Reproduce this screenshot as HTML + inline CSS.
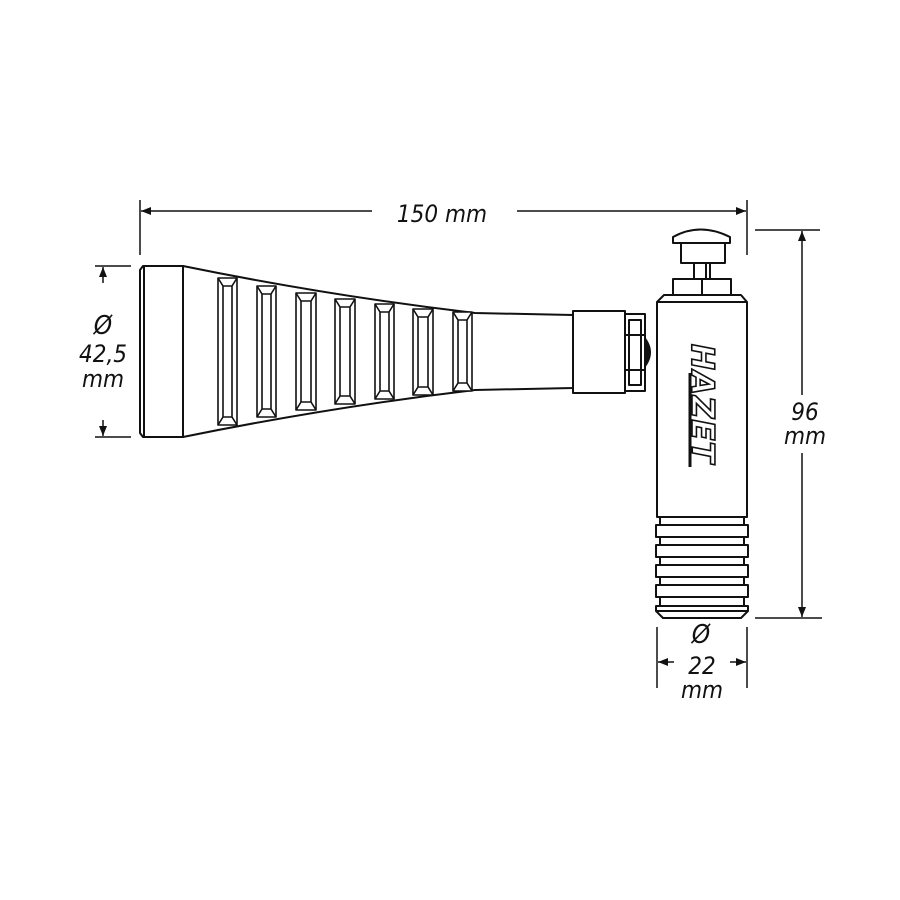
<!DOCTYPE html>
<html><head><meta charset="utf-8"><style>
html,body{margin:0;padding:0;background:#fff;width:900px;height:900px;overflow:hidden}
svg text{font-family:"Liberation Sans Narrow","DejaVu Sans Condensed","Liberation Sans",sans-serif;font-style:italic;fill:#111}
</style></head><body>
<svg width="900" height="900" viewBox="0 0 900 900" xmlns="http://www.w3.org/2000/svg">
<defs>
<marker id="a" viewBox="0 0 10 10" refX="10" refY="5" markerWidth="13" markerHeight="10" orient="auto-start-reverse" markerUnits="userSpaceOnUse"><path d="M0,1 L10,5 L0,9 Z" fill="#111"/></marker>
</defs>
<g stroke="#111" stroke-width="1.5" fill="none">
<line x1="140" y1="200" x2="140" y2="255"/>
<line x1="747" y1="200" x2="747" y2="255"/>
<line x1="141" y1="211" x2="372" y2="211" marker-start="url(#a)"/>
<line x1="517" y1="211" x2="746" y2="211" marker-end="url(#a)"/>
<line x1="95" y1="266" x2="131" y2="266"/>
<line x1="95" y1="437" x2="131" y2="437"/>
<line x1="103" y1="267" x2="103" y2="283" marker-start="url(#a)"/>
<line x1="103" y1="420" x2="103" y2="436" marker-end="url(#a)"/>
<line x1="755" y1="230" x2="820" y2="230"/>
<line x1="755" y1="618" x2="822" y2="618"/>
<line x1="802" y1="231" x2="802" y2="395" marker-start="url(#a)"/>
<line x1="802" y1="453" x2="802" y2="617" marker-end="url(#a)"/>
<line x1="657" y1="627" x2="657" y2="688"/>
<line x1="747" y1="627" x2="747" y2="688"/>
<line x1="658" y1="662" x2="674" y2="662" marker-start="url(#a)"/>
<line x1="730" y1="662" x2="746" y2="662" marker-end="url(#a)"/>
</g>
<g stroke="#111" stroke-width="2" fill="#fff" stroke-linejoin="round">
<path d="M183,266 Q330,296 475,313 L573,315 L573,388 L475,390 Q330,407 183,437 Z"/>
<path d="M143,266 L183,266 L183,437 L143,437 L140,433 L140,270 Z"/>
<line x1="144" y1="267" x2="144" y2="436"/>
<g stroke-width="1.6">
<rect x="218" y="278" width="19" height="147"/><path d="M223,286 L232,286 L232,417 L223,417 Z M218,278 L223,286 M237,278 L232,286 M218,425 L223,417 M237,425 L232,417"/>
<rect x="257" y="286" width="19" height="131"/><path d="M262,294 L271,294 L271,409 L262,409 Z M257,286 L262,294 M276,286 L271,294 M257,417 L262,409 M276,417 L271,409"/>
<rect x="296" y="293" width="20" height="117"/><path d="M301,301 L311,301 L311,402 L301,402 Z M296,293 L301,301 M316,293 L311,301 M296,410 L301,402 M316,410 L311,402"/>
<rect x="335" y="299" width="20" height="105"/><path d="M340,307 L350,307 L350,396 L340,396 Z M335,299 L340,307 M355,299 L350,307 M335,404 L340,396 M355,404 L350,396"/>
<rect x="375" y="304" width="19" height="95"/><path d="M380,312 L389,312 L389,391 L380,391 Z M375,304 L380,312 M394,304 L389,312 M375,399 L380,391 M394,399 L389,391"/>
<rect x="413" y="309" width="20" height="86"/><path d="M418,317 L428,317 L428,387 L418,387 Z M413,309 L418,317 M433,309 L428,317 M413,395 L418,387 M433,395 L428,387"/>
<rect x="453" y="312" width="19" height="79"/><path d="M458,320 L467,320 L467,383 L458,383 Z M453,312 L458,320 M472,312 L467,320 M453,391 L458,383 M472,391 L467,383"/>
</g>
<rect x="573" y="311" width="52" height="82"/>
<path d="M640,333 Q660,352 640,372" fill="#111"/>
<rect x="625" y="314" width="20" height="77"/>
<path d="M629,320 L641,320 L641,385 L629,385 Z M625,335 L645,335 M625,370 L645,370"/>
<rect x="681" y="243" width="44" height="20"/>
<path d="M673,243 L673,237 Q700,222 730,237 L730,243 Z"/>
<rect x="694" y="263" width="16" height="16"/>
<line x1="706" y1="263" x2="706" y2="279"/>
<rect x="673" y="279" width="58" height="16"/>
<line x1="702" y1="279" x2="702" y2="295"/>
<path d="M657,302 L664,295 L741,295 L747,302 L747,517 L657,517 Z"/>
<line x1="658" y1="302" x2="746" y2="302"/>
<rect x="660" y="517" width="84" height="8"/>
<rect x="656" y="525" width="92" height="12"/>
<rect x="660" y="537" width="84" height="8"/>
<rect x="656" y="545" width="92" height="12"/>
<rect x="660" y="557" width="84" height="8"/>
<rect x="656" y="565" width="92" height="12"/>
<rect x="660" y="577" width="84" height="8"/>
<rect x="656" y="585" width="92" height="12"/>
<rect x="660" y="597" width="84" height="9"/>
<path d="M656,606 L748,606 L748,611 L741,618 L663,618 L656,611 Z"/>
<line x1="657" y1="611" x2="747" y2="611"/>
</g>
<text transform="translate(692,344) rotate(90)" font-size="31" font-weight="bold" style="font-family:'DejaVu Sans',sans-serif;font-style:italic;fill:#fff;stroke:#111;stroke-width:1.6" letter-spacing="1">HAZET</text>
<line x1="690" y1="373" x2="690" y2="467" stroke="#111" stroke-width="3"/>
<text x="442" y="222" font-size="24" text-anchor="middle">150 mm</text>
<text x="103" y="334" font-size="26" text-anchor="middle">Ø</text>
<text x="103" y="362" font-size="24" text-anchor="middle">42,5</text>
<text x="103" y="387" font-size="24" text-anchor="middle">mm</text>
<text x="805" y="420" font-size="24" text-anchor="middle">96</text>
<text x="805" y="444" font-size="24" text-anchor="middle">mm</text>
<text x="701" y="643" font-size="26" text-anchor="middle">Ø</text>
<text x="702" y="674" font-size="24" text-anchor="middle">22</text>
<text x="702" y="698" font-size="24" text-anchor="middle">mm</text>
</svg>
</body></html>
